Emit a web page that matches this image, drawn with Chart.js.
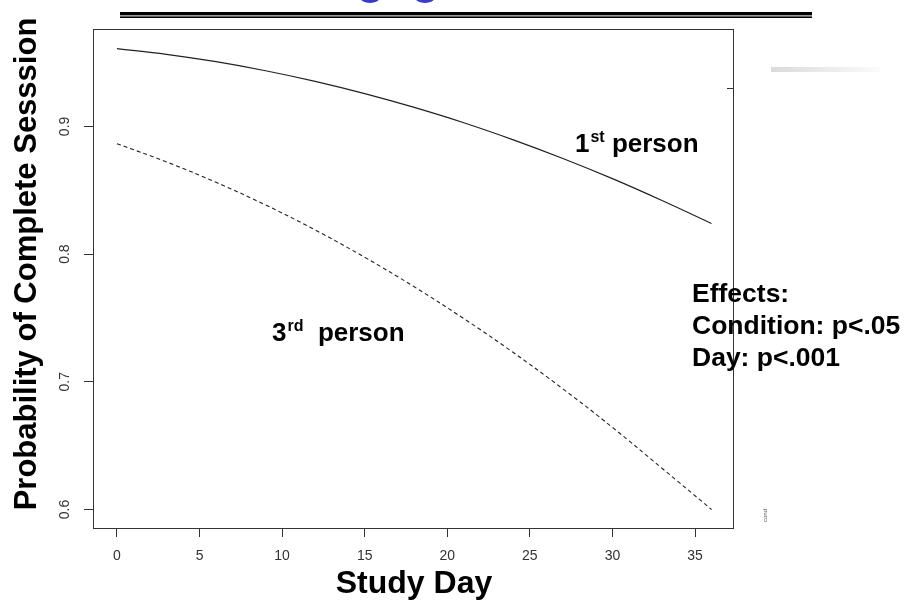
<!DOCTYPE html>
<html>
<head>
<meta charset="utf-8">
<script src="https://cdn.jsdelivr.net/npm/chart.js@4"></script>
<style>
html,body{margin:0;padding:0;background:#fff}
#wrap{position:relative;width:904px;height:600px}
</style>
</head>
<body>
<div id="wrap"><canvas id="c" width="904" height="600"></canvas></div>
<script>
// values
const days=[0,3,6,9,12,15,18,21,24,27,30,33,36];
const firstPerson=[0.961,0.9565,0.9507,0.9436,0.9353,0.9257,0.9149,0.9029,0.8895,0.8749,0.8591,0.8420,0.8240];
const thirdPerson=[0.8865,0.8722,0.8562,0.8385,0.8189,0.7975,0.7744,0.7495,0.7229,0.6945,0.6643,0.6323,0.600];
const xTicks=[0,5,10,15,20,25,30,35];
const yTicks=[0.6,0.7,0.8,0.9];
const xLabel='Study Day';
const yLabel='Probability of Complete Sesssion';
const effects=['Effects:','Condition: p<.05','Day: p<.001'];

const tickFont={family:'"Liberation Sans", Arial, sans-serif',size:14};

function supText(ctx,x,y,a,sup,rest){
  ctx.font='bold 26px "Liberation Sans", Arial, sans-serif';
  ctx.fillText(a,x,y);
  x+=ctx.measureText(a).width+1;
  ctx.font='bold 16px "Liberation Sans", Arial, sans-serif';
  ctx.fillText(sup,x,y-10);
  x+=ctx.measureText(sup).width;
  ctx.font='bold 26px "Liberation Sans", Arial, sans-serif';
  ctx.fillText(rest,x,y);
}

const decor={
  id:'decor',
  afterDraw(chart){
    const ctx=chart.ctx, a=chart.chartArea;
    ctx.save();
    // plot frame
    ctx.strokeStyle='#333';
    ctx.lineWidth=1;
    ctx.strokeRect(a.left+0.5,a.top+0.5,a.right-a.left,a.bottom-a.top);
    ctx.beginPath();ctx.moveTo(a.right-6,88.5);ctx.lineTo(a.right,88.5);ctx.stroke();

    // slide leftovers at the top
    ctx.fillStyle='#3b3bc8';
    ctx.beginPath();ctx.ellipse(370,-3,10,6,0,0,Math.PI*2);ctx.fill();
    ctx.beginPath();ctx.ellipse(425,-3,10,6,0,0,Math.PI*2);ctx.fill();
    ctx.fillStyle='#000';
    ctx.fillRect(120,12,692,3);
    ctx.fillStyle='#999';
    ctx.fillRect(120,15,692,1.5);
    ctx.fillStyle='#000';
    ctx.fillRect(120,16.5,692,1.5);
    const g=ctx.createLinearGradient(771,0,880,0);
    g.addColorStop(0,'#dadada');g.addColorStop(1,'#fbfbfb');
    ctx.fillStyle=g;
    ctx.fillRect(771,67,109,5);

    // axis titles
    ctx.fillStyle='#000';
    ctx.textBaseline='alphabetic';
    ctx.textAlign='center';
    ctx.font='bold 32px "Liberation Sans", Arial, sans-serif';
    ctx.fillText(xLabel,414,593);
    ctx.font='bold 31px "Liberation Sans", Arial, sans-serif';
    ctx.save();
    ctx.translate(36,264);
    ctx.rotate(-Math.PI/2);
    ctx.fillText(yLabel,0,0);
    ctx.restore();

    // curve labels
    ctx.textAlign='left';
    supText(ctx,575,152,'1','st',' person');
    supText(ctx,272,341,'3','rd','  person');

    ctx.font='bold 26.5px "Liberation Sans", Arial, sans-serif';
    effects.forEach((t,i)=>ctx.fillText(t,692,302+i*32));

    // tiny mark bottom right
    ctx.save();
    ctx.translate(767,522);
    ctx.rotate(-Math.PI/2);
    ctx.font='6px "Liberation Sans", Arial, sans-serif';
    ctx.fillStyle='#555';
    ctx.fillText('cond',0,0);
    ctx.restore();
    ctx.restore();
  }
};

new Chart(document.getElementById('c'),{
  type:'line',
  data:{
    datasets:[
      {label:'1st person',data:days.map((d,i)=>({x:d,y:firstPerson[i]})),borderColor:'#222',borderWidth:1.2,pointRadius:0,tension:0.4,fill:false},
      {label:'3rd person',data:days.map((d,i)=>({x:d,y:thirdPerson[i]})),borderColor:'#222',borderWidth:1.1,borderDash:[4,3],pointRadius:0,tension:0.4,fill:false}
    ]
  },
  options:{
    responsive:false,
    animation:false,
    devicePixelRatio:1,
    layout:{padding:{left:0,top:29,right:171,bottom:0}},
    plugins:{legend:{display:false},tooltip:{enabled:false}},
    scales:{
      x:{
        type:'linear',min:-1.45,max:37.3,
        afterBuildTicks:s=>{s.ticks=xTicks.map(v=>({value:v}));},
        afterFit:s=>{s.height=72;},
        border:{display:false},
        grid:{display:true,drawOnChartArea:false,drawTicks:true,tickLength:9,color:'#333'},
        ticks:{font:tickFont,color:'#333',padding:11,maxRotation:0,callback:v=>String(v)}
      },
      y:{
        type:'linear',min:0.5855,max:0.9763,
        afterBuildTicks:s=>{s.ticks=yTicks.map(v=>({value:v}));},
        afterFit:s=>{s.width=93;},
        border:{display:false},
        grid:{display:true,drawOnChartArea:false,drawTicks:true,tickLength:9,color:'#333'},
        ticks:{font:tickFont,color:'#333',padding:9,minRotation:90,maxRotation:90,crossAlign:'center',callback:v=>String(v)}
      }
    }
  },
  plugins:[decor]
});
</script>
</body>
</html>
